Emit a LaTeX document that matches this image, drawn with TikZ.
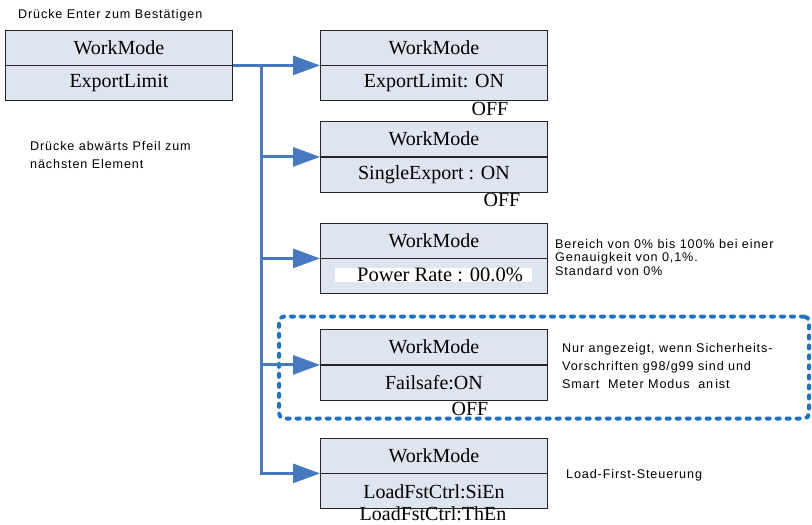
\documentclass[tikz,border=0pt]{standalone}
\usepackage{fontspec}
\setmainfont{Liberation Serif}
\newfontfamily\notefont{Liberation Sans}[LetterSpace=7]
\usetikzlibrary{arrows.meta}
\definecolor{boxfill}{RGB}{223,229,240}
\definecolor{arrowblue}{RGB}{70,121,191}
\definecolor{dashblue}{RGB}{28,114,196}
\tikzset{
  boxrow/.style={draw=black!85, line width=0.9pt, fill=boxfill, rectangle,
    minimum width=227pt, minimum height=35pt, inner sep=0pt,
    font=\fontsize{20}{22}\selectfont},
  plaintxt/.style={inner sep=0pt, font=\fontsize{20}{22}\selectfont},
  note/.style={inner sep=0pt, anchor=base west, font=\notefont\fontsize{12.6}{14}\selectfont},
  conn/.style={draw=arrowblue, line width=3pt},
  arr/.style={conn, -{Triangle[length=27pt,width=19pt]}},
  dashframe/.style={draw=dashblue, line width=4pt, line cap=round,
    dash pattern=on 3pt off 7pt, rounded corners=5pt, rectangle,
    minimum width=530pt, minimum height=102pt, inner sep=0pt}
}
\begin{document}
\begin{tikzpicture}[x=1pt,y=-1pt]
\useasboundingbox (0,0) rectangle (812,525);

% dashed frame
\node[dashframe] (frame) at (544,367.5) {};

% left box
\node[boxrow, anchor=north west] (b0t) at (5,29.5) {WorkMode};
\node[boxrow, anchor=north] (b0b) at (b0t.south) {ExportLimit};

% right boxes
\node[boxrow, anchor=north west] (b1t) at (320,29.5) {WorkMode};
\node[boxrow, anchor=north] (b1b) at (b1t.south) {ExportLimit: ON};
\node[plaintxt] (off1) at (490,109) {OFF};

\node[boxrow, anchor=north west] (b2t) at (320,121) {WorkMode};
\node[boxrow, anchor=north] (b2b) at (b2t.south) {SingleExport : ON};
\node[plaintxt] (off2) at (502,200) {OFF};

\node[boxrow, anchor=north west] (b3t) at (320,222.5) {WorkMode};
\node[boxrow, anchor=north] (b3b) at (b3t.south) {};
\node[fill=white, minimum width=197pt, minimum height=14pt, inner sep=0pt] (pwbg) at (433.5,275) {};
\node[plaintxt, font=\fontsize{20.5}{22}\selectfont] (pw) at (440,275) {Power Rate : 00.0\%};

\node[boxrow, anchor=north west] (b4t) at (320,329) {WorkMode};
\node[boxrow, anchor=north] (b4b) at (b4t.south) {Failsafe:ON};
\node[plaintxt] (off4) at (470,409) {OFF};

\node[boxrow, anchor=north west] (b5t) at (320,437.5) {WorkMode};
\node[boxrow, anchor=north] (b5b) at (b5t.south) {LoadFstCtrl:SiEn};
\node[plaintxt] (the) at (433,514) {LoadFstCtrl:ThEn};

% notes
\node[note] (n0) at (18,18.5) {Drücke Enter zum Bestätigen};
\node[note] (n1a) at (30,150) {Drücke abwärts Pfeil zum};
\node[note] (n1b) at (30,168) {nächsten Element};
\node[note] (n3a) at (555,248) {Bereich von 0\% bis 100\% bei einer};
\node[note] (n3b) at (555,261.5) {Genauigkeit von 0,1\%.};
\node[note] (n3c) at (555,275) {Standard von 0\%};
\node[note] (n4a) at (562,352) {Nur angezeigt, wenn Sicherheits-};
\node[note] (n4b) at (562,370) {Vorschriften g98/g99 sind und};
\node[note] (n4c) at (562,388) {Smart\ \ Meter Modus\ \ an\,ist};
\node[note] (n5) at (566,478) {Load-First-Steuerung};

% connectors
\coordinate (j) at (261,64.5);
\draw[arr] (b0t.south east) -- (b1t.south west);
\draw[conn] (j) -- (j |- b5t.south west);
\draw[arr] (j |- b2t.south west) -- (b2t.south west);
\draw[arr] (j |- b3t.south west) -- (b3t.south west);
\draw[arr] (j |- b4t.south west) -- (b4t.south west);
\draw[arr, line join=miter] (j |- b4t.south west) |- (b5t.south west);
\end{tikzpicture}
\end{document}
